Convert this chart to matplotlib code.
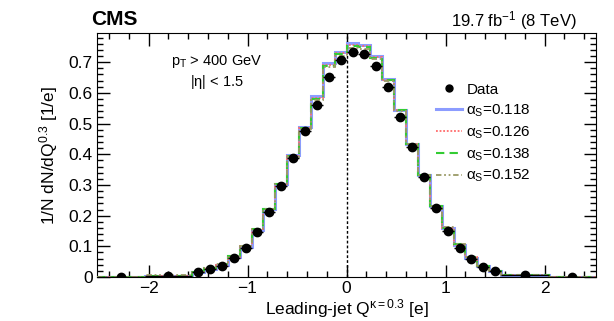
import matplotlib
matplotlib.use("Agg")
import matplotlib.pyplot as plt
from matplotlib.ticker import MultipleLocator
from matplotlib.lines import Line2D

plt.rcParams['font.family'] = ['Liberation Sans', 'DejaVu Sans']
plt.rcParams['mathtext.fontset'] = 'custom'
plt.rcParams['mathtext.rm'] = 'Liberation Sans'
plt.rcParams['mathtext.it'] = 'Liberation Sans'
plt.rcParams['mathtext.bf'] = 'Liberation Sans:bold'

# bin edges of the leading-jet charge histogram
edges = [-2.52, -2.04, -1.56, -1.44, -1.32, -1.20, -1.08, -0.96, -0.84, -0.72,
         -0.60, -0.48, -0.36, -0.24, -0.12, 0.00, 0.12, 0.24, 0.36, 0.48,
         0.60, 0.72, 0.84, 0.96, 1.08, 1.20, 1.32, 1.44, 1.56, 2.04, 2.52]

data = [0.001, 0.004, 0.015, 0.025, 0.037, 0.061, 0.093, 0.147, 0.212, 0.295,
        0.388, 0.477, 0.561, 0.651, 0.706, 0.732, 0.727, 0.688, 0.619, 0.523,
        0.425, 0.326, 0.226, 0.150, 0.096, 0.058, 0.032, 0.019, 0.005, 0.001]

mc118 = [0.001, 0.004, 0.016, 0.027, 0.040, 0.065, 0.099, 0.154, 0.221, 0.304,
         0.398, 0.490, 0.589, 0.697, 0.734, 0.762, 0.756, 0.721, 0.645, 0.545,
         0.434, 0.331, 0.231, 0.159, 0.104, 0.063, 0.035, 0.020, 0.005, 0.001]
mc126 = [0.001, 0.004, 0.016, 0.027, 0.040, 0.066, 0.100, 0.155, 0.222, 0.304,
         0.396, 0.487, 0.585, 0.692, 0.730, 0.757, 0.752, 0.718, 0.643, 0.544,
         0.434, 0.331, 0.231, 0.160, 0.105, 0.064, 0.035, 0.020, 0.005, 0.001]
mc138 = [0.001, 0.004, 0.017, 0.028, 0.041, 0.067, 0.101, 0.156, 0.222, 0.303,
         0.394, 0.484, 0.581, 0.688, 0.726, 0.752, 0.748, 0.715, 0.641, 0.543,
         0.434, 0.332, 0.232, 0.161, 0.106, 0.065, 0.036, 0.021, 0.005, 0.001]
mc152 = [0.001, 0.005, 0.017, 0.029, 0.042, 0.068, 0.102, 0.157, 0.223, 0.302,
         0.392, 0.481, 0.577, 0.683, 0.721, 0.747, 0.744, 0.712, 0.639, 0.542,
         0.434, 0.333, 0.233, 0.162, 0.107, 0.066, 0.037, 0.021, 0.006, 0.001]

labels = [r'$\alpha_{S}$=0.118', r'$\alpha_{S}$=0.126', r'$\alpha_{S}$=0.138', r'$\alpha_{S}$=0.152']

fig = plt.figure(figsize=(6.14, 3.21), dpi=100)
ax = fig.add_axes([0.158, 0.137, 0.813, 0.760])

centers = [(edges[i] + edges[i + 1]) / 2 for i in range(len(data))]
halfw = [(edges[i + 1] - edges[i]) / 2 for i in range(len(data))]

ax.stairs(mc118, edges, color='#8c9cff', lw=2.2, zorder=2)
ax.stairs(mc126, edges, color='#ff6b6b', lw=1.3, ls=(0, (1, 1)), zorder=3)
ax.stairs(mc138, edges, color='#33cc33', lw=1.5, ls=(0, (4, 2.5)), zorder=4)
ax.stairs(mc152, edges, color='#9a9a66', lw=1.3, ls=(0, (3, 1.5, 1, 1.5, 1, 1.5)), zorder=5)
ax.errorbar(centers, data, xerr=halfw, fmt='o', color='black', ms=6, elinewidth=1,
            capsize=0, zorder=6)

ax.axvline(0, color='black', lw=1, ls=(0, (2, 1.5)), zorder=1)

ax.set_xlim(-2.52, 2.52)
ax.set_ylim(0, 0.795)
ax.xaxis.set_major_locator(MultipleLocator(1))
ax.xaxis.set_minor_locator(MultipleLocator(0.2))
ax.yaxis.set_major_locator(MultipleLocator(0.1))
ax.yaxis.set_minor_locator(MultipleLocator(0.02))
ax.tick_params(which='both', direction='in', top=True, right=True, labelsize=12.5)
ax.tick_params(axis='x', which='both', pad=3)
ax.tick_params(axis='y', which='both', pad=3)
ax.tick_params(which='major', length=9, width=1)
ax.tick_params(which='minor', length=4.5, width=1)
ax.set_xticks([-2, -1, 0, 1, 2])
ax.set_xticklabels(['\u22122', '\u22121', '0', '1', '2'])
ax.set_yticks([0, 0.1, 0.2, 0.3, 0.4, 0.5, 0.6, 0.7])
ax.set_yticklabels(['0', '0.1', '0.2', '0.3', '0.4', '0.5', '0.6', '0.7'])

ax.set_xlabel(r'Leading-jet Q$^{\kappa=0.3}$ [e]', fontsize=12.5, labelpad=1)
ax.set_ylabel(r'1/N dN/dQ$^{0.3}$ [1/e]', fontsize=12.5, labelpad=6)

fig.text(0.148, 0.94, 'CMS', fontsize=15, fontweight='bold', ha='left', va='center')
fig.text(0.94, 0.935, r'19.7 fb$^{-1}$ (8 TeV)', fontsize=12, ha='right', va='center')

fig.text(0.353, 0.807, r'p$_{\mathrm{T}}$ > 400 GeV', fontsize=10.5, ha='center', va='center')
fig.text(0.353, 0.745, r'|$\eta$| < 1.5', fontsize=10.5, ha='center', va='center')

handles = [Line2D([], [], marker='o', color='black', ls='none', ms=5),
           Line2D([], [], color='#8c9cff', lw=2.2),
           Line2D([], [], color='#ff6b6b', lw=1.3, ls=(0, (1, 1))),
           Line2D([], [], color='#33cc33', lw=1.5, ls=(0, (4, 2.5))),
           Line2D([], [], color='#9a9a66', lw=1.3, ls=(0, (3, 1.5, 1, 1.5, 1, 1.5)))]
leg = fig.legend(handles, ['Data'] + labels, loc='upper left',
                 bbox_to_anchor=(0.71, 0.742), frameon=False, fontsize=11,
                 handlelength=1.7, handletextpad=0.3, labelspacing=0.36,
                 borderaxespad=0, borderpad=0)

fig.savefig('out.png', dpi=100)
